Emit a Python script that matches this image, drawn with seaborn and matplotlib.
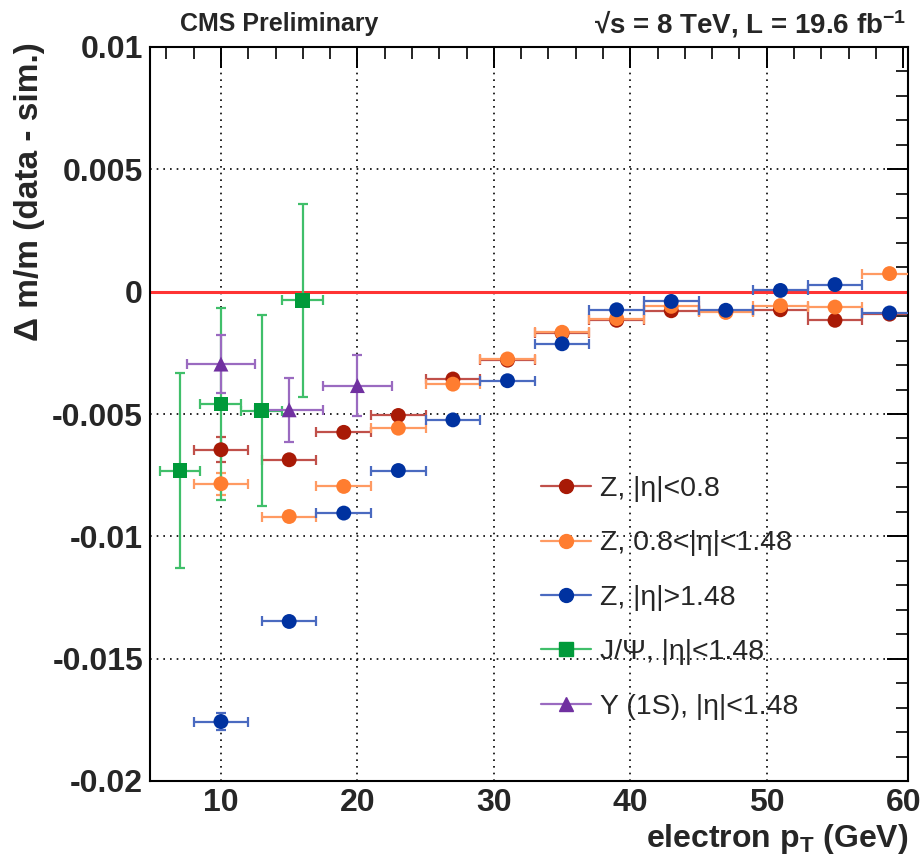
import numpy as np
import pandas as pd
import matplotlib
matplotlib.use("Agg")
import matplotlib.pyplot as plt
import seaborn as sns
from matplotlib.lines import Line2D
from matplotlib.ticker import MultipleLocator, FuncFormatter

# ---------------- data ----------------
z_pt = [10, 15, 19, 23, 27, 31, 35, 39, 43, 47, 51, 55, 59]
z_pt_err = [2, 2, 2, 2, 2, 2, 2, 2, 2, 2, 2, 2, 2]

z_barrel = [-6.46e-3, -6.87e-3, -5.75e-3, -5.06e-3, -3.57e-3, -2.80e-3, -1.70e-3,
            -1.17e-3, -0.78e-3, -0.80e-3, -0.74e-3, -1.17e-3, -0.92e-3]
z_barrel_err = [0.50e-3, 0.10e-3, 0.08e-3, 0.06e-3, 0.05e-3, 0.05e-3, 0.05e-3,
                0.05e-3, 0.05e-3, 0.05e-3, 0.05e-3, 0.05e-3, 0.05e-3]

z_mid = [-7.85e-3, -9.19e-3, -7.96e-3, -5.58e-3, -3.78e-3, -2.75e-3, -1.66e-3,
         -1.10e-3, -0.60e-3, -0.85e-3, -0.57e-3, -0.63e-3, 0.74e-3]
z_mid_err = [0.45e-3, 0.20e-3, 0.10e-3, 0.08e-3, 0.06e-3, 0.06e-3, 0.06e-3,
             0.06e-3, 0.06e-3, 0.06e-3, 0.06e-3, 0.06e-3, 0.06e-3]

z_endcap = [-17.57e-3, -13.48e-3, -9.05e-3, -7.31e-3, -5.24e-3, -3.64e-3, -2.13e-3,
            -0.74e-3, -0.40e-3, -0.76e-3, 0.05e-3, 0.29e-3, -0.87e-3]
z_endcap_err = [0.35e-3, 0.10e-3, 0.08e-3, 0.06e-3, 0.06e-3, 0.06e-3, 0.06e-3,
                0.06e-3, 0.06e-3, 0.06e-3, 0.06e-3, 0.06e-3, 0.06e-3]

jpsi_pt = [7, 10, 13, 16]
jpsi_pt_err = [1.5, 1.5, 1.5, 1.5]
jpsi = [-7.31e-3, -4.59e-3, -4.87e-3, -0.36e-3]
jpsi_err = [3.99e-3, 3.93e-3, 3.90e-3, 3.95e-3]

ups_pt = [10, 15, 20]
ups_pt_err = [2.5, 2.5, 2.5]
ups = [-2.96e-3, -4.83e-3, -3.84e-3]
ups_err = [1.20e-3, 1.30e-3, 1.25e-3]

labels = ["Z, |η|<0.8", "Z, 0.8<|η|<1.48", "Z, |η|>1.48",
          "J/Ψ, |η|<1.48", "Υ (1S), |η|<1.48"]
y_ticks = [0.01, 0.005, 0, -0.005, -0.01, -0.015, -0.02]
x_ticks = [10, 20, 30, 40, 50, 60]

# ---------------- style ----------------
marker_colors = ["#a81a06", "#ff7d30", "#0032a0", "#009a3a", "#7030a0"]
line_colors = ["#c0504a", "#ff9a62", "#4a6ac0", "#40bf6a", "#9a6ac0"]
markers = ["o", "o", "o", "s", "^"]

sns.set_theme(style="white")
plt.rcParams["font.family"] = ["Liberation Sans", "DejaVu Sans"]
plt.rcParams["mathtext.fontset"] = "custom"
plt.rcParams["mathtext.rm"] = "Liberation Sans"
plt.rcParams["mathtext.bf"] = "Liberation Sans:bold"
plt.rcParams["mathtext.it"] = "Liberation Sans:italic"

series = [
    (z_pt, z_pt_err, z_barrel, z_barrel_err),
    (z_pt, z_pt_err, z_mid, z_mid_err),
    (z_pt, z_pt_err, z_endcap, z_endcap_err),
    (jpsi_pt, jpsi_pt_err, jpsi, jpsi_err),
    (ups_pt, ups_pt_err, ups, ups_err),
]

rows = []
for lab, (xs, xe, ys, ye) in zip(labels, series):
    for a, b, c, d in zip(xs, xe, ys, ye):
        rows.append({"series": lab, "pt": a, "pt_err": b, "dm": c, "dm_err": d})
df = pd.DataFrame(rows)

fig = plt.figure(figsize=(9.24, 8.56), dpi=100)
ax = fig.add_axes([150 / 924, 1 - 781 / 856, 758 / 924, 734 / 856])

ax.set_xlim(4.8, 60.35)
ax.set_ylim(-0.02, 0.01)

# grid
for gx in x_ticks[:-1]:
    ax.axvline(gx, color="black", lw=1.2, ls=(0, (1, 3)), zorder=0)
for gy in [0.005, -0.005, -0.01, -0.015]:
    ax.axhline(gy, color="black", lw=1.2, ls=(0, (1, 3)), zorder=0)

# zero line
ax.axhline(0, color="#ff3333", lw=2.2, zorder=1)

# error bars
for i, lab in enumerate(labels):
    sub = df[df["series"] == lab]
    ax.errorbar(sub["pt"], sub["dm"], xerr=sub["pt_err"], yerr=sub["dm_err"],
                fmt="none", ecolor=line_colors[i], elinewidth=1.6,
                capsize=3.5, capthick=1.6, zorder=2 + i)

sns.scatterplot(data=df, x="pt", y="dm", hue="series", style="series",
                palette=dict(zip(labels, marker_colors)),
                markers=dict(zip(labels, markers)),
                s=115, edgecolor="none", linewidth=0, legend=False,
                ax=ax, zorder=10)

# axes ticks
ax.xaxis.set_major_locator(MultipleLocator(10))
ax.xaxis.set_minor_locator(MultipleLocator(2))
ax.yaxis.set_major_locator(MultipleLocator(0.005))
ax.yaxis.set_minor_locator(MultipleLocator(0.001))
ax.set_xticks(x_ticks)
ax.set_yticks(y_ticks)
ax.yaxis.set_major_formatter(FuncFormatter(lambda v, p: "0" if abs(v) < 1e-12 else f"{v:g}"))
ax.tick_params(which="major", direction="in", length=15, width=1.4,
               top=True, right=True, labelsize=23, pad=5, color="black")
ax.tick_params(which="minor", direction="in", length=8.5, width=1.2,
               top=True, right=True, color="black")
for lbl in ax.get_xticklabels() + ax.get_yticklabels():
    lbl.set_fontweight("bold")
for sp in ax.spines.values():
    sp.set_linewidth(1.5)
    sp.set_color("black")

ax.set_xlabel("")
ax.set_ylabel("")
fig.text(30 / 924, 1 - 192 / 856, "Δ m/m (data - sim.)", rotation=90,
         ha="center", va="center", fontsize=24, fontweight="bold")
fig.text(908 / 924, 1 - 847 / 856, r"electron p$_{\mathbf{T}}$ (GeV)",
         ha="right", va="baseline", fontsize=23, fontweight="bold")
fig.text(180 / 924, 1 - 24 / 856, "CMS Preliminary", ha="left", va="center",
         fontsize=18, fontweight="bold")
fig.text(906 / 924, 1 - 24 / 856, r"√s = 8 TeV, L = 19.6 fb$^{\mathbf{-1}}$",
         ha="right", va="center", fontsize=20, fontweight="bold")

# legend
handles = [Line2D([0], [0], color=line_colors[i], lw=1.6, marker=markers[i],
                  markersize=10, markerfacecolor=marker_colors[i],
                  markeredgecolor=marker_colors[i]) for i in range(5)]
leg = ax.legend(handles, labels, loc="upper left", bbox_to_anchor=(0.516, 0.4155),
                frameon=False, fontsize=20.5, handlelength=1.76, handletextpad=0.32,
                labelspacing=1.0, borderpad=0, borderaxespad=0)

fig.savefig("out.png", dpi=100)
